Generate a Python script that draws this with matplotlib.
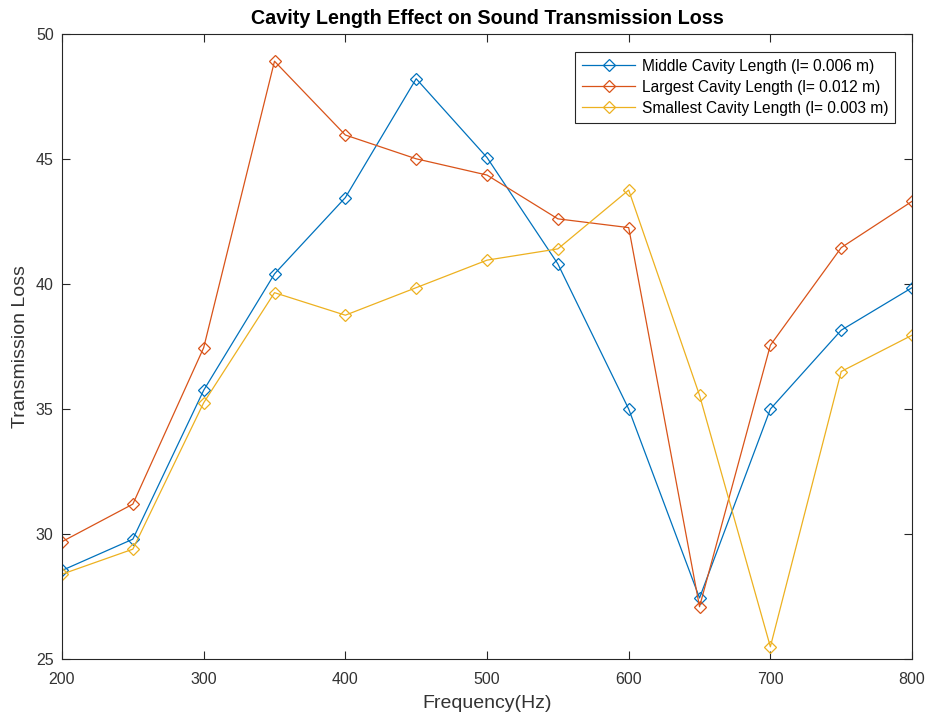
import numpy as np
import matplotlib
matplotlib.use("Agg")
import matplotlib.pyplot as plt

plt.rcParams['font.family'] = ['Liberation Sans', 'DejaVu Sans']

# frequency sweep (Hz) and measured transmission loss for each cavity length
freq = [200, 250, 300, 350, 400, 450, 500, 550, 600, 650, 700, 750, 800]
tl_middle = [28.55, 29.8, 35.75, 40.4, 43.45, 48.2, 45.05, 40.8, 35.0, 27.45, 35.0, 38.15, 39.85]
tl_largest = [29.7, 31.2, 37.45, 48.9, 45.95, 45.0, 44.35, 42.6, 42.25, 27.1, 37.55, 41.45, 43.3]
tl_smallest = [28.4, 29.4, 35.25, 39.65, 38.75, 39.85, 40.95, 41.4, 43.75, 35.55, 25.5, 36.5, 37.95]

labels = ["Middle Cavity Length (l= 0.006 m)",
          "Largest Cavity Length (l= 0.012 m)",
          "Smallest Cavity Length (l= 0.003 m)"]
colors = ["#0072BD", "#D95319", "#EDB120"]

fig = plt.figure(figsize=(9.28, 7.21), dpi=100)
ax = fig.add_axes([0.0668, 0.0856, 0.9160, 0.8677])

for y, lab, c in zip([tl_middle, tl_largest, tl_smallest], labels, colors):
    ax.plot(freq, y, color=c, lw=0.9, marker='D', ms=5.8,
            mfc='none', mec=c, mew=0.9, label=lab)

ax.set_xlim(200, 800)
ax.set_ylim(25, 50)
ax.set_xticks(np.arange(200, 801, 100))
ax.set_yticks(np.arange(25, 51, 5))

axcol = '#262626'
for s in ax.spines.values():
    s.set_color(axcol)
    s.set_linewidth(0.8)
ax.tick_params(direction='in', length=6, width=0.8, top=True, right=True,
               colors=axcol, labelsize=11.5, labelcolor='#333333', pad=6)
ax.tick_params(axis='x', pad=9)

ax.set_title("Cavity Length Effect on Sound Transmission Loss",
             fontsize=14.2, fontweight='bold', pad=7)
ax.set_xlabel("Frequency(Hz)", fontsize=14, color='#333333', labelpad=6)
ax.set_ylabel("Transmission Loss", fontsize=14, color='#333333', labelpad=5)

leg = ax.legend(loc='upper right', bbox_to_anchor=(0.980, 0.971), borderaxespad=0,
                fontsize=11.2, handlelength=3.4, handletextpad=0.4, borderpad=0.45,
                labelspacing=0.38, fancybox=False, framealpha=1,
                edgecolor=axcol)
leg.get_frame().set_linewidth(0.8)

fig.savefig("out.png", dpi=100)
